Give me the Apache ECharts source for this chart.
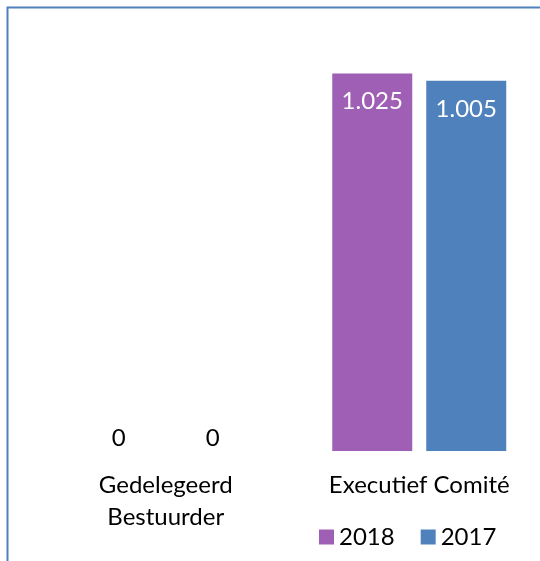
<!DOCTYPE html>
<html>
<head>
<meta charset="utf-8">
<script src="https://cdn.jsdelivr.net/npm/echarts@6/dist/echarts.min.js"></script>
<style>
html,body{margin:0;padding:0;background:#fff;}
#chart{width:540px;height:561px;}
</style>
</head>
<body>
<div id="chart"></div>
<script>
const categories = ['Gedelegeerd\nBestuurder', 'Executief Comité'];
const seriesNames = ['2018', '2017'];
const values2018 = [0, 1025];
const values2017 = [0, 1005];
const colors = ['#9E5FB4', '#4F81BD'];
const FONT = 'Lato';

const chart = echarts.init(document.getElementById('chart'));
const labelCfg = {
  show: true,
  fontFamily: FONT,
  fontSize: 24,
  formatter: p => p.value === 0 ? '0' : p.value.toLocaleString('de-DE'),
};
function makeSeries(name, data, color) {
  return {
    name: name,
    type: 'bar',
    data: data.map(v => ({
      value: v,
      label: v === 0
        ? Object.assign({}, labelCfg, {position: 'top', distance: 1, color: '#000'})
        : Object.assign({}, labelCfg, {position: 'insideTop', distance: 16, color: '#fff'})
    })),
    itemStyle: {color: color},
    barWidth: 80,
    barGap: '17.5%',
    animation: false
  };
}
chart.setOption({
  animation: false,
  graphic: [{
    type: 'rect',
    shape: {x: 7.5, y: 7.5, width: 700, height: 700},
    style: {fill: 'none', stroke: '#4F81BD', lineWidth: 2},
    silent: true
  }],
  grid: {left: 39, top: 9, width: 507, height: 442, outerBoundsMode: 'none', containLabel: false},
  legend: {
    data: seriesNames,
    left: 319,
    top: 525,
    padding: 0,
    itemWidth: 15,
    itemHeight: 15,
    itemGap: 26,
    icon: 'rect',
    textStyle: {fontFamily: FONT, fontSize: 24, color: '#000'}
  },
  xAxis: {
    type: 'category',
    data: categories,
    axisLine: {show: false},
    axisTick: {show: false},
    axisLabel: {
      margin: 18,
      fontFamily: FONT,
      fontSize: 24,
      lineHeight: 32,
      color: '#000'
    }
  },
  yAxis: {
    type: 'value',
    min: 0,
    max: 1200,
    show: false,
    splitLine: {show: false}
  },
  series: [
    makeSeries(seriesNames[0], values2018, colors[0]),
    makeSeries(seriesNames[1], values2017, colors[1])
  ]
});
</script>
</body>
</html>
